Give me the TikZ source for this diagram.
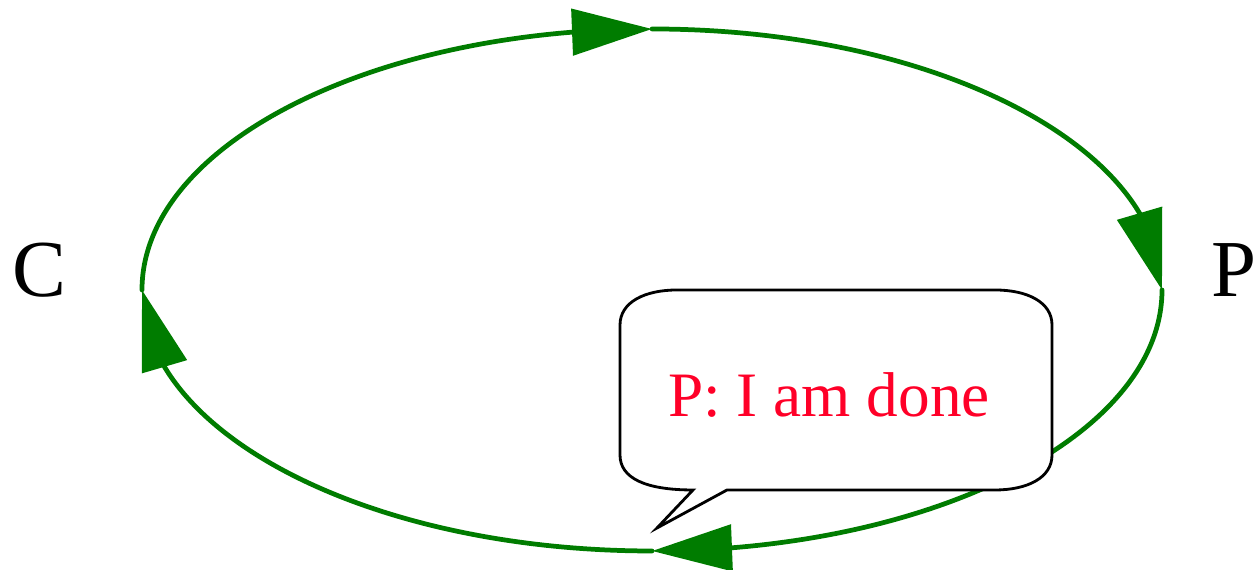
\documentclass[tikz,border=0pt]{standalone}
\usepackage{fontspec}
\setmainfont{Liberation Serif}
\usetikzlibrary{arrows.meta,bending}
\definecolor{loopgreen}{RGB}{0,124,0}
\definecolor{msgred}{RGB}{255,0,40}
\tikzset{
  looparc/.style={draw=loopgreen,line width=1.35pt,line cap=round,
    -{Triangle[length=0.8cm,width=0.46cm,flex]}},
  biglabel/.style={font=\fontsize{23}{27}\selectfont,inner sep=0pt,anchor=base west},
  bubble/.style={draw=black,fill=white,line width=0.8pt,line join=miter},
  msg/.style={font=\fontsize{18}{22}\selectfont,text=msgred,inner sep=0pt,anchor=base}
}
\begin{document}
\begin{tikzpicture}
\useasboundingbox (0,0) rectangle (12.53,5.70);
% ellipse points
\coordinate (L) at (1.42,2.80);
\coordinate (T) at (6.52,5.41);
\coordinate (R) at (11.62,2.80);
\coordinate (B) at (6.52,0.19);
\draw[looparc] (L) arc[start angle=180,end angle=90,x radius=5.1cm,y radius=2.61cm];
\draw[looparc] (T) arc[start angle=90,end angle=0,x radius=5.1cm,y radius=2.61cm];
\draw[looparc] (R) arc[start angle=0,end angle=-90,x radius=5.1cm,y radius=2.61cm];
\draw[looparc] (B) arc[start angle=270,end angle=180,x radius=5.1cm,y radius=2.61cm];
% labels
\node[biglabel] (C) at (0.12,2.73) {C};
\node[biglabel] (P) at (12.11,2.73) {P};
% callout
\path[bubble] (6.93,0.80) .. controls (6.45,0.80) and (6.20,0.92) .. (6.20,1.15)
  -- (6.20,2.45) .. controls (6.20,2.68) and (6.45,2.80) .. (6.77,2.80)
  -- (9.95,2.80) .. controls (10.27,2.80) and (10.52,2.68) .. (10.52,2.45)
  -- (10.52,1.15) .. controls (10.52,0.92) and (10.27,0.80) .. (9.95,0.80)
  -- (7.27,0.80) -- (6.57,0.42) -- cycle;
\node[msg] (M) at (8.29,1.53) {P: I am done};
\end{tikzpicture}
\end{document}
